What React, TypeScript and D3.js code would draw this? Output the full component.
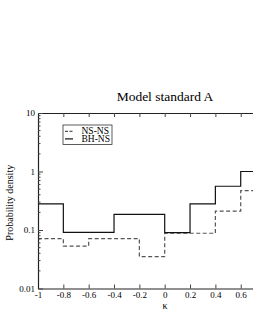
import * as d3 from 'd3';
import React, { useRef, useEffect } from 'react';

// bin edges (kappa) and densities per bin
const binEdges = [-1, -0.8, -0.6, -0.4, -0.2, 0, 0.2, 0.4, 0.6, 0.8];
const nsns = [0.071, 0.053, 0.071, 0.071, 0.035, 0.088, 0.088, 0.21, 0.47];
const bhns = [0.28, 0.091, 0.091, 0.185, 0.185, 0.09, 0.28, 0.56, 1.0];
const xTicks = [-1, -0.8, -0.6, -0.4, -0.2, 0, 0.2, 0.4, 0.6];
const yMajor = [0.01, 0.1, 1, 10];
const yLabels = ['0.01', '0.1', '1', '10'];

const series = [
    { name: 'NS-NS', values: nsns, dash: '4,2.5', color: '#555' },
    { name: 'BH-NS', values: bhns, dash: null, color: '#111' },
];

function App() {
    const ref = useRef<SVGSVGElement>(null);

    useEffect(() => {
        draw();
    }, []);

    const draw = () => {
        const W = 253, H = 327;
        const left = 38, top = 113, bottom = 288.5;
        const unit = 126.7; // px per kappa unit

        const svg = d3.select(ref.current)
            .attr('width', W)
            .attr('height', H)
            .style('font-family', '"Liberation Serif", serif');
        svg.selectAll('*').remove();

        const x = d3.scaleLinear().domain([-1, 1]).range([left, left + 2 * unit]);
        const y = d3.scaleLog().domain([0.01, 10]).range([bottom, top]);

        // minor ticks for the log axis
        const yMinor: number[] = [];
        [0.01, 0.1, 1].forEach(d => {
            for (let k = 2; k <= 9; k++) yMinor.push(d * k);
        });

        // title
        svg.append('text')
            .attr('x', 165)
            .attr('y', 101)
            .attr('text-anchor', 'middle')
            .style('font-size', '13.5px')
            .text('Model standard A');

        // histograms
        const line = d3.line<[number, number]>()
            .x(d => x(d[0]))
            .y(d => y(d[1]))
            .curve(d3.curveStepAfter);

        series.forEach(s => {
            const pts: [number, number][] = s.values.map((v, i) => [binEdges[i], v]);
            pts.push([binEdges[binEdges.length - 1], s.values[s.values.length - 1]]);
            svg.append('path')
                .attr('d', line(pts))
                .attr('fill', 'none')
                .attr('stroke', s.color)
                .attr('stroke-width', 1.2)
                .attr('stroke-dasharray', s.dash);
        });

        // axes
        const fmt = (d: any) => String(+(+d).toFixed(1));

        const xBottom = svg.append('g')
            .attr('transform', `translate(0, ${bottom})`)
            .call(d3.axisBottom(x).tickValues(xTicks).tickSize(-4).tickSizeOuter(0).tickPadding(3).tickFormat(fmt));

        const xTop = svg.append('g')
            .attr('transform', `translate(0, ${top})`)
            .call(d3.axisTop(x).tickValues(xTicks).tickSize(-4).tickSizeOuter(0).tickFormat(() => ''));

        const yAxis = svg.append('g')
            .attr('transform', `translate(${left}, 0)`)
            .call(d3.axisLeft(y).tickValues(yMajor).tickSize(-5).tickSizeOuter(0).tickPadding(3)
                .tickFormat((d, i) => yLabels[i]));

        svg.append('g')
            .attr('transform', `translate(${left}, 0)`)
            .selectAll('line')
            .data(yMinor)
            .enter()
            .append('line')
            .attr('x1', 0)
            .attr('x2', 2.5)
            .attr('y1', d => y(d))
            .attr('y2', d => y(d))
            .attr('stroke', '#444');

        [xBottom, xTop, yAxis].forEach(g => {
            g.selectAll('path').attr('stroke', '#222').attr('stroke-width', 1.2);
            g.selectAll('line').attr('stroke', '#444');
            g.selectAll('text')
                .attr('fill', '#000')
                .style('font-family', '"Liberation Serif", serif')
                .style('font-size', '9px');
        });

        // axis titles
        svg.append('text')
            .attr('x', 165)
            .attr('y', 308.5)
            .attr('text-anchor', 'middle')
            .style('font-size', '10px')
            .text('κ');

        svg.append('text')
            .attr('transform', `translate(12.5, ${(top + bottom) / 2 + 2}) rotate(-90)`)
            .attr('text-anchor', 'middle')
            .style('font-size', '10px')
            .text('Probability density');

        // legend
        const legend = svg.append('g').attr('transform', 'translate(63, 125)');
        legend.append('rect')
            .attr('width', 49)
            .attr('height', 19.5)
            .attr('fill', '#fff')
            .attr('stroke', '#333')
            .attr('stroke-width', 0.8);

        series.forEach((s, i) => {
            const ly = 6.3 + i * 7.6;
            legend.append('line')
                .attr('x1', 2)
                .attr('x2', 10)
                .attr('y1', ly)
                .attr('y2', ly)
                .attr('stroke', s.color)
                .attr('stroke-width', 1.2)
                .attr('stroke-dasharray', s.dash ? '3,1.5' : null);
            legend.append('text')
                .attr('x', 18.5)
                .attr('y', ly + 2.8)
                .style('font-size', '9.5px')
                .text(s.name);
        });
    };

    return (
        <div style={{ position: 'absolute', left: 0, top: 0 }}>
            <svg ref={ref} style={{ display: 'block' }}></svg>
        </div>
    );
}

export default App;
